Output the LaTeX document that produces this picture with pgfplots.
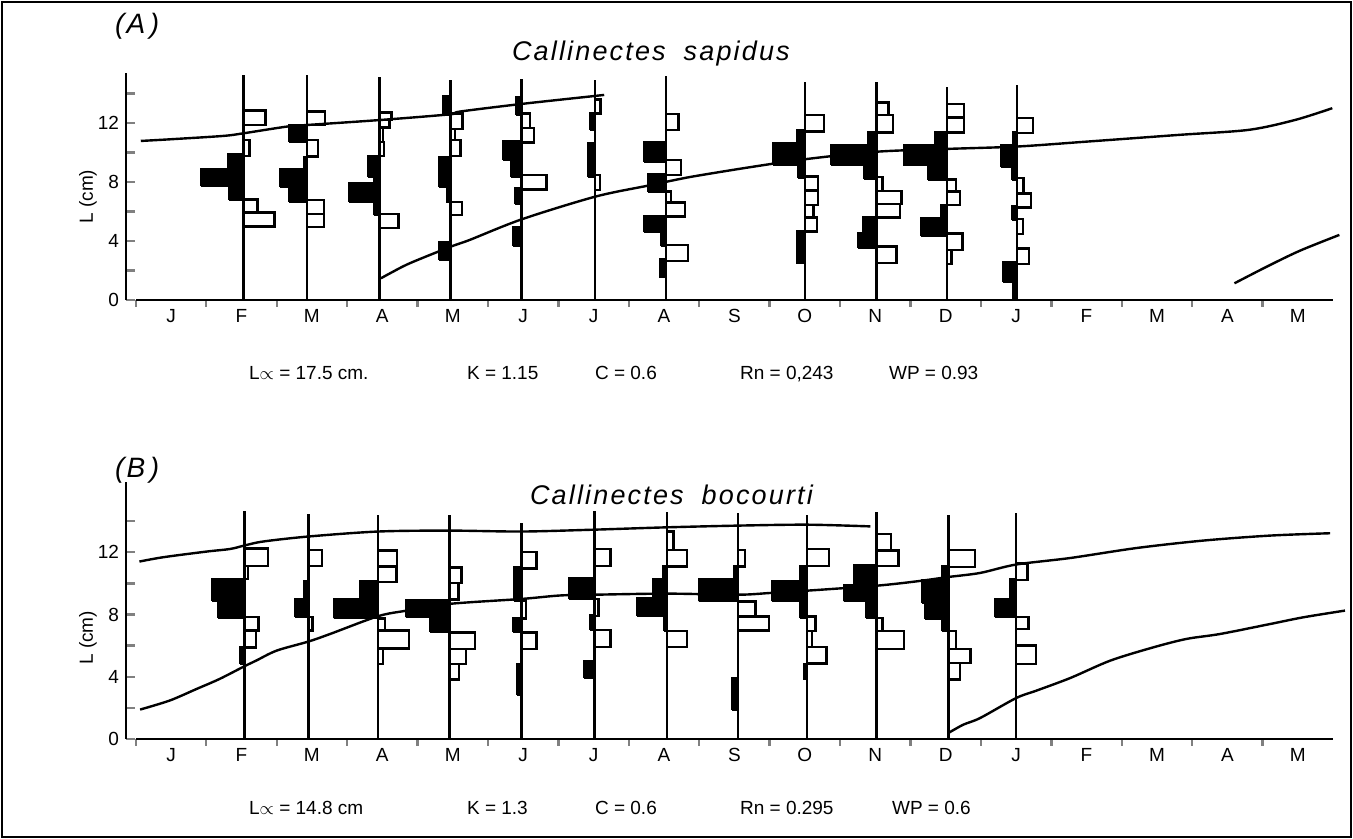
\documentclass[border=0pt]{standalone}
\usepackage{fontspec}
\setmainfont{Liberation Sans}
\newfontfamily\spaced[LetterSpace=8]{Liberation Sans}
\usepackage{pgfplots}
\pgfplotsset{compat=1.18}

% black bar left of the sample line, white bar right of it
% #1 line position (month), #2 bar length (month), #3-#4 size class (cm)
\newcommand{\bk}[4]{\addplot[blk] coordinates {({#1-#2},#3) (#1,#3) (#1,#4) ({#1-#2},#4) ({#1-#2},#3)};}
\newcommand{\wt}[4]{\addplot[wht] coordinates {(#1,#3) ({#1+#2},#3) ({#1+#2},#4) (#1,#4) (#1,#3)};}
\newcommand{\vl}[2]{\addplot[vline] coordinates {(#1,0) (#1,#2)};}

\pgfplotsset{
  panel/.style={
    scale only axis, width=603.5pt,
    xmin=-0.14, xmax=17, ymin=0,
    axis x line*=bottom, axis y line*=left,
    axis line style={-, line width=1.4pt},
    x axis line style={draw=none},
    clip=false, no marks,
    tick align=inside,
    major tick length=4.5pt, minor tick length=3.5pt,
    xtick={0.5,1.5,...,16.5},
    xticklabels={J,F,M,A,M,J,J,A,S,O,N,D,J,F,M,A,M},
    major x tick style={draw=none},
    minor xtick={0,1,...,16},
    minor x tick style={line width=1.2pt, yshift=-3.5pt},
    ytick={0,2,...,14},
    yticklabels={0,,4,,8,,12,,},
    major y tick style={line width=1.2pt},
    tick label style={font=\fontsize{9.5}{11}\selectfont},
    xticklabel style={yshift=-1pt},
    /pgf/number format/assume math mode=true,
    blk/.style={fill=black, draw=black, line width=0.9pt},
    wht/.style={fill=white, draw=black, line width=1.2pt},
    vline/.style={black, line width=1.3pt},
    curve/.style={black, line width=1.2pt, smooth, tension=0.5},
  }
}

\begin{document}
\begin{tikzpicture}[x=0.5pt, y=0.5pt]
\useasboundingbox (0,0) rectangle (1353,839);
\draw[line width=1.1pt] (2,2) rectangle (1351,837);

% ---------------- (A) Callinectes sapidus ----------------
\node[anchor=base west, font=\spaced\fontsize{14}{16}\selectfont\itshape] at (108,805) {(A\,)};
\node[anchor=base west, font=\spaced\fontsize{13.5}{16}\selectfont\itshape] at (505,778) {Callinectes\hspace{9pt}sapidus};

\begin{axis}[panel, at={(63pt,269.5pt)}, anchor=south west, height=113.6pt, ymax=15.4]
\node[rotate=90, font=\fontsize{9.5}{11}\selectfont] at (axis cs:-0.68,7) {L (cm)};
\addplot[black, line width=1.4pt] coordinates {(0,0) (17,0)};

% F
\wt{1.53}{0.31}{11.86}{12.84} \wt{1.53}{0.085}{9.76}{10.85} \wt{1.53}{0.20}{5.92}{6.82} \wt{1.53}{0.44}{4.97}{5.92}
\bk{1.53}{0.22}{8.86}{9.9} \bk{1.53}{0.60}{7.73}{8.86} \bk{1.53}{0.21}{6.78}{7.73}
% M
\wt{2.43}{0.26}{11.86}{12.77} \wt{2.43}{0.16}{9.72}{10.85} \wt{2.43}{0.24}{5.83}{6.78} \wt{2.43}{0.24}{4.93}{5.83}
\bk{2.43}{0.26}{10.73}{11.86} \bk{2.43}{0.04}{8.86}{9.72} \bk{2.43}{0.39}{7.68}{8.86} \bk{2.43}{0.25}{6.66}{7.68}
% A
\wt{3.46}{0.17}{12.2}{12.72} \wt{3.46}{0.14}{11.68}{12.2} \wt{3.46}{0.05}{10.7}{11.68} \wt{3.46}{0.06}{9.76}{10.7} \wt{3.46}{0.27}{4.86}{5.83}
\bk{3.46}{0.16}{8.36}{9.76} \bk{3.46}{0.085}{7.91}{8.36} \bk{3.46}{0.43}{6.66}{7.91} \bk{3.46}{0.085}{5.76}{6.66}
% M
\wt{4.47}{0.17}{11.57}{12.65} \wt{4.47}{0.06}{10.85}{11.57} \wt{4.47}{0.14}{9.76}{10.85} \wt{4.47}{0.16}{5.76}{6.66}
\bk{4.47}{0.11}{12.54}{13.83} \bk{4.47}{0.16}{7.68}{9.67} \bk{4.47}{0.06}{6.66}{7.68} \bk{4.47}{0.16}{2.71}{3.95}
% J
\wt{5.48}{0.12}{11.64}{12.65} \wt{5.48}{0.17}{10.67}{11.64} \wt{5.48}{0.35}{7.5}{8.47}
\bk{5.48}{0.08}{12.54}{13.78} \bk{5.48}{0.27}{9.49}{10.8} \bk{5.48}{0.16}{8.36}{9.49} \bk{5.48}{0.095}{6.51}{7.57} \bk{5.48}{0.13}{3.66}{4.97}
% J
\wt{6.52}{0.08}{12.65}{13.6} \wt{6.52}{0.07}{7.46}{8.47}
\bk{6.52}{0.07}{11.52}{12.65} \bk{6.52}{0.095}{8.36}{10.62}
% A
\wt{7.53}{0.175}{11.52}{12.59} \wt{7.53}{0.21}{8.47}{9.49} \wt{7.53}{0.07}{6.6}{7.34} \wt{7.53}{0.27}{5.65}{6.6} \wt{7.53}{0.31}{2.64}{3.73}
\bk{7.53}{0.31}{9.38}{10.69} \bk{7.53}{0.26}{7.34}{8.52} \bk{7.53}{0.32}{4.6}{5.7} \bk{7.53}{0.07}{3.66}{4.6} \bk{7.53}{0.095}{1.54}{2.76}
% O
\wt{9.5}{0.27}{11.41}{12.54} \wt{9.5}{0.19}{7.41}{8.36} \wt{9.5}{0.19}{6.44}{7.41} \wt{9.5}{0.12}{5.6}{6.44} \wt{9.5}{0.17}{4.63}{5.6}
\bk{9.5}{0.12}{10.62}{11.52} \bk{9.5}{0.45}{9.15}{10.62} \bk{9.5}{0.095}{8.25}{9.15} \bk{9.5}{0.12}{2.53}{4.7}
% N
\wt{10.52}{0.17}{12.54}{13.38} \wt{10.52}{0.23}{11.35}{12.54} \wt{10.52}{0.085}{7.39}{8.32} \wt{10.52}{0.355}{6.51}{7.39} \wt{10.52}{0.33}{5.6}{6.51} \wt{10.52}{0.28}{2.49}{3.62}
\bk{10.52}{0.13}{10.51}{11.41} \bk{10.52}{0.65}{9.15}{10.51} \bk{10.52}{0.18}{8.18}{9.15} \bk{10.52}{0.19}{4.56}{5.65} \bk{10.52}{0.26}{3.5}{4.56}
% D
\wt{11.52}{0.24}{12.38}{13.29} \wt{11.52}{0.24}{11.35}{12.38} \wt{11.52}{0.13}{7.34}{8.18} \wt{11.52}{0.18}{6.44}{7.34} \wt{11.52}{0.22}{3.39}{4.52} \wt{11.52}{0.06}{2.44}{3.39}
\bk{11.52}{0.18}{10.51}{11.41} \bk{11.52}{0.62}{9.15}{10.51} \bk{11.52}{0.27}{8.14}{9.15} \bk{11.52}{0.085}{5.54}{6.44} \bk{11.52}{0.37}{4.34}{5.54}
% J
\wt{12.51}{0.23}{11.3}{12.32} \wt{12.51}{0.095}{7.23}{8.25} \wt{12.51}{0.2}{6.28}{7.23} \wt{12.51}{0.085}{4.47}{5.47} \wt{12.51}{0.17}{2.44}{3.5}
\bk{12.51}{0.05}{10.51}{11.41} \bk{12.51}{0.23}{9.04}{10.51} \bk{12.51}{0.07}{8.14}{9.04} \bk{12.51}{0.07}{5.42}{6.37} \bk{12.51}{0.2}{1.24}{2.6} \bk{12.51}{0.05}{0}{1.24}

\vl{1.53}{15.25} \vl{2.43}{15.25} \vl{3.46}{15.1} \vl{4.47}{14.9} \vl{5.48}{15.0} \vl{6.52}{14.9}
\vl{7.53}{15.2} \vl{9.5}{14.8} \vl{10.52}{14.8} \vl{11.52}{14.46} \vl{12.51}{14.58}

\addplot[curve] coordinates {(0.07,10.78) (0.48,10.89) (1.24,11.12) (1.53,11.3) (2.14,11.75) (2.43,11.86)
  (3.47,12.2) (4.47,12.59) (4.6,12.77) (5.48,13.29) (6.52,13.83) (6.65,13.9)};
\addplot[curve] coordinates {(3.48,1.47) (3.61,1.81) (3.89,2.49) (4.47,3.61) (4.74,4.07) (5.48,5.47)
  (6.52,7.0) (7.25,7.73) (7.54,8.02) (7.91,8.37) (8.72,9.0) (9.5,9.54) (10.52,10.05) (11.52,10.24)
  (12.51,10.4) (13.49,10.73) (14.81,11.19) (15.8,11.53) (16.46,12.2) (16.99,13.0)};
\addplot[curve] coordinates {(15.6,1.13) (16.06,2.26) (16.53,3.34) (17.09,4.41)};
\end{axis}

\node[anchor=base west, font=\fontsize{9.5}{11}\selectfont] at (242,459) {L$\propto$ = 17.5 cm.};
\node[anchor=base west, font=\fontsize{9.5}{11}\selectfont] at (460,459) {K = 1.15};
\node[anchor=base west, font=\fontsize{9.5}{11}\selectfont] at (588,459) {C = 0.6};
\node[anchor=base west, font=\fontsize{9.5}{11}\selectfont] at (733,459) {Rn = 0,243};
\node[anchor=base west, font=\fontsize{9.5}{11}\selectfont] at (882,459) {WP = 0.93};

% ---------------- (B) Callinectes bocourti ----------------
\node[anchor=base west, font=\spaced\fontsize{14}{16}\selectfont\itshape] at (108,361) {(B\,)};
\node[anchor=base west, font=\spaced\fontsize{13.5}{16}\selectfont\itshape] at (523,334) {Callinectes\hspace{9pt}bocourti};

\begin{axis}[panel, at={(63pt,50pt)}, anchor=south west, height=128.4pt, ymax=16.5]
\node[rotate=90, font=\fontsize{9.5}{11}\selectfont] at (axis cs:-0.68,6.5) {L (cm)};
\addplot[black, line width=1.4pt] coordinates {(0,0) (17,0)};

% F
\wt{1.54}{0.34}{11.13}{12.25} \wt{1.54}{0.05}{10.28}{11.13} \wt{1.54}{0.2}{6.96}{7.82} \wt{1.54}{0.165}{5.89}{6.96}
\bk{1.54}{0.46}{8.89}{10.28} \bk{1.54}{0.37}{7.75}{8.89} \bk{1.54}{0.06}{4.82}{5.89}
% M
\wt{2.45}{0.19}{11.13}{12.16} \wt{2.45}{0.06}{6.96}{7.82}
\bk{2.45}{0.07}{8.99}{10.17} \bk{2.45}{0.19}{7.82}{8.99}
% A
\wt{3.44}{0.27}{11.09}{12.1} \wt{3.44}{0.26}{10.1}{11.09} \wt{3.44}{0.095}{6.96}{7.75} \wt{3.44}{0.44}{5.82}{6.96} \wt{3.44}{0.07}{4.82}{5.82}
\bk{3.44}{0.26}{8.99}{10.17} \bk{3.44}{0.63}{7.75}{8.99}
% M
\wt{4.45}{0.175}{10.02}{11.03} \wt{4.45}{0.13}{8.95}{10.02} \wt{4.45}{0.365}{5.78}{6.85} \wt{4.45}{0.24}{4.82}{5.78} \wt{4.45}{0.14}{3.81}{4.82}
\bk{4.45}{0.62}{7.82}{8.95} \bk{4.45}{0.27}{6.85}{7.82}
% J
\wt{5.48}{0.21}{10.96}{12.03} \wt{5.48}{0.06}{7.75}{8.89} \wt{5.48}{0.21}{5.78}{6.85}
\bk{5.48}{0.11}{8.89}{11.03} \bk{5.48}{0.12}{6.9}{7.75} \bk{5.48}{0.07}{2.83}{4.82}
% J
\wt{6.51}{0.23}{11.13}{12.21} \wt{6.51}{0.06}{7.92}{8.99} \wt{6.51}{0.23}{5.91}{7.02}
\bk{6.51}{0.365}{8.99}{10.34} \bk{6.51}{0.066}{7.02}{7.99} \bk{6.51}{0.15}{3.92}{4.99}
% A
\wt{7.54}{0.095}{12.16}{13.34} \wt{7.54}{0.29}{11.09}{12.16} \wt{7.54}{0.29}{5.91}{6.92}
\bk{7.54}{0.05}{10.28}{11.13} \bk{7.54}{0.2}{9.06}{10.28} \bk{7.54}{0.42}{7.88}{9.06} \bk{7.54}{0.035}{6.92}{7.88}
% S
\wt{8.55}{0.1}{11.09}{12.16} \wt{8.55}{0.25}{7.88}{8.84} \wt{8.55}{0.44}{6.98}{7.88}
\bk{8.55}{0.06}{10.28}{11.13} \bk{8.55}{0.56}{8.84}{10.28} \bk{8.55}{0.085}{1.88}{3.92}
% O
\wt{9.53}{0.31}{11.13}{12.21} \wt{9.53}{0.12}{6.92}{7.88} \wt{9.53}{0.07}{5.91}{6.92} \wt{9.53}{0.28}{4.84}{5.91}
\bk{9.53}{0.1}{10.13}{11.13} \bk{9.53}{0.5}{8.84}{10.13} \bk{9.53}{0.1}{7.77}{8.84} \bk{9.53}{0.05}{3.85}{4.84}
% N
\wt{10.52}{0.2}{12.12}{13.19} \wt{10.52}{0.31}{11.13}{12.12} \wt{10.52}{0.085}{6.92}{7.77} \wt{10.52}{0.39}{5.78}{6.92}
\bk{10.52}{0.33}{9.91}{11.2} \bk{10.52}{0.47}{8.84}{9.91} \bk{10.52}{0.15}{7.77}{8.84}
% D
\wt{11.54}{0.38}{11.05}{12.16} \wt{11.54}{0.11}{5.78}{6.92} \wt{11.54}{0.31}{4.88}{5.78} \wt{11.54}{0.16}{3.81}{4.88}
\bk{11.54}{0.095}{10.24}{11.09} \bk{11.54}{0.38}{8.74}{10.24} \bk{11.54}{0.33}{7.71}{8.74} \bk{11.54}{0.095}{6.92}{7.71}
% J
\wt{12.5}{0.16}{10.21}{11.28} \wt{12.5}{0.175}{7.07}{7.82} \wt{12.5}{0.28}{4.82}{6.0}
\bk{12.5}{0.095}{8.99}{10.28} \bk{12.5}{0.3}{7.82}{8.99}

\vl{1.54}{14.68} \vl{2.45}{14.46} \vl{3.44}{14.36} \vl{4.45}{14.36} \vl{5.48}{13.86} \vl{6.51}{14.63}
\vl{7.54}{14.56} \vl{8.55}{14.5} \vl{9.53}{14.4} \vl{10.52}{14.56} \vl{11.54}{14.4} \vl{12.5}{14.5}

\addplot[curve] coordinates {(0.05,11.4) (0.39,11.68) (1.0,12.04) (1.34,12.21) (1.54,12.43) (1.81,12.69)
  (2.45,13.01) (3.44,13.33) (4.45,13.39) (5.48,13.33) (6.51,13.45) (7.54,13.6) (8.55,13.71) (9.53,13.77) (10.43,13.66)};
\addplot[curve] coordinates {(0.06,1.89) (0.48,2.47) (0.86,3.21) (1.19,3.86) (1.54,4.67) (1.71,5.04)
  (2.0,5.68) (2.45,6.26) (2.76,6.75) (3.44,7.89) (3.85,8.25) (4.45,8.68) (5.48,9.0) (6.02,9.22)
  (6.51,9.27) (7.54,9.34) (8.55,9.27) (9.0,9.38) (9.53,9.53) (10.52,9.85) (11.09,10.13) (11.54,10.41)
  (11.99,10.67) (12.5,11.21) (13.27,11.63) (14.21,12.27) (15.16,12.75) (16.11,13.07) (16.96,13.22)};
\addplot[curve] coordinates {(11.54,0.39) (11.75,0.92) (11.99,1.35) (12.5,2.63) (12.79,3.11) (13.27,3.92)
  (13.84,5.04) (14.45,5.89) (14.92,6.43) (15.4,6.75) (16.11,7.39) (16.58,7.82) (17.17,8.25)};
\end{axis}

\node[anchor=base west, font=\fontsize{9.5}{11}\selectfont] at (242,24) {L$\propto$ = 14.8 cm};
\node[anchor=base west, font=\fontsize{9.5}{11}\selectfont] at (460,24) {K = 1.3};
\node[anchor=base west, font=\fontsize{9.5}{11}\selectfont] at (588,24) {C = 0.6};
\node[anchor=base west, font=\fontsize{9.5}{11}\selectfont] at (733,24) {Rn = 0.295};
\node[anchor=base west, font=\fontsize{9.5}{11}\selectfont] at (885,24) {WP = 0.6};
\end{tikzpicture}
\end{document}
